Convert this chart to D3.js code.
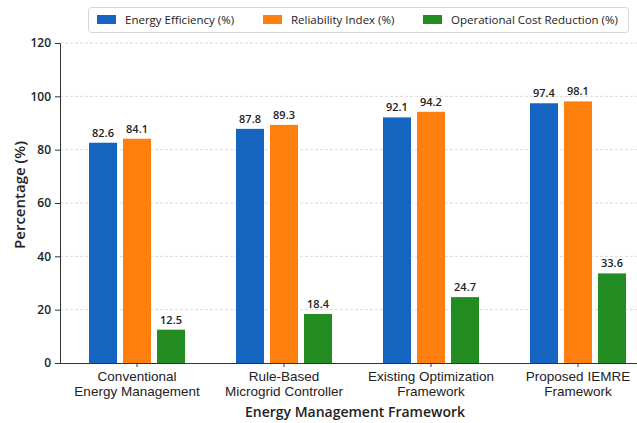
<!DOCTYPE html>
<html>
<head>
<meta charset="utf-8">
<script src="https://cdn.jsdelivr.net/npm/d3@7"></script>
<style>
  html, body { margin: 0; padding: 0; background: #fff; }
  svg { display: block; font-family: "Open Sans", "Noto Sans", sans-serif; }
</style>
</head>
<body>
<svg id="chart" width="637" height="423"></svg>
<script>
// Framework categories (two-line labels) and metric series
const categories = [
  ["Conventional", "Energy Management"],
  ["Rule-Based", "Microgrid Controller"],
  ["Existing Optimization", "Framework"],
  ["Proposed IEMRE", "Framework"]
];
const seriesNames = ["Energy Efficiency (%)", "Reliability Index (%)", "Operational Cost Reduction (%)"];
const energyEfficiency = [82.6, 87.8, 92.1, 97.4];
const reliabilityIndex = [84.1, 89.3, 94.2, 98.1];
const costReduction = [12.5, 18.4, 24.7, 33.6];
const yTicks = [0, 20, 40, 60, 80, 100, 120];
const colors = ["#1565c0", "#ff7f0e", "#228b22"];

const series = [energyEfficiency, reliabilityIndex, costReduction];
const svg = d3.select("#chart");

const plotLeft = 60, plotRight = 655, plotTop = 43, plotBottom = 363;

const x0 = d3.scaleBand()
  .domain(d3.range(categories.length))
  .range([plotLeft, plotRight])
  .paddingInner(0.3)
  .paddingOuter(0.174);

const x1 = d3.scaleBand()
  .domain(d3.range(series.length))
  .range([0, x0.bandwidth()])
  .paddingInner(0.176)
  .paddingOuter(0.101);

const y = d3.scaleLinear().domain([0, 120]).range([plotBottom, plotTop]);

// dashed horizontal grid
svg.append("g")
  .selectAll("line")
  .data(yTicks.filter(d => d > 0))
  .join("line")
  .attr("x1", plotLeft).attr("x2", 637)
  .attr("y1", d => y(d)).attr("y2", d => y(d))
  .attr("stroke", "#cfcfcf")
  .attr("stroke-width", 0.8)
  .attr("stroke-dasharray", "3,2");

// bars
const groups = svg.append("g")
  .selectAll("g")
  .data(categories.map((c, i) => i))
  .join("g")
  .attr("transform", i => `translate(${x0(i)},0)`);

groups.selectAll("rect")
  .data(i => series.map((s, k) => ({ k, v: s[i] })))
  .join("rect")
  .attr("x", d => x1(d.k))
  .attr("width", x1.bandwidth())
  .attr("y", d => y(d.v))
  .attr("height", d => y(0) - y(d.v))
  .attr("fill", d => colors[d.k]);

groups.selectAll("text")
  .data(i => series.map((s, k) => ({ k, v: s[i] })))
  .join("text")
  .attr("x", d => x1(d.k) + x1.bandwidth() / 2)
  .attr("y", d => y(d.v) - 6)
  .attr("text-anchor", "middle")
  .attr("font-size", 11)
  .attr("font-weight", 600)
  .attr("fill", "#222")
  .text(d => d.v.toFixed(1));

// y axis
const yAxis = svg.append("g")
  .attr("transform", `translate(${plotLeft},0)`)
  .call(d3.axisLeft(y).tickValues(yTicks).tickSize(5).tickPadding(4));
yAxis.select(".domain").attr("stroke", "#333");
yAxis.selectAll(".tick line").attr("stroke", "#333");
yAxis.selectAll(".tick text")
  .attr("font-size", 12).attr("font-weight", 600).attr("fill", "#222")
  .attr("font-family", "\"Open Sans\", sans-serif");

// x axis
const xAxis = svg.append("g")
  .attr("transform", `translate(0,${plotBottom})`)
  .call(d3.axisBottom(x0).tickSize(4).tickFormat(""));
xAxis.select(".domain").attr("stroke", "#333").attr("d", `M${plotLeft},0.5H637`);
xAxis.selectAll(".tick line").attr("stroke", "#333");
xAxis.selectAll(".tick").each(function (i) {
  const t = d3.select(this).append("text")
    .attr("text-anchor", "middle")
    .attr("font-size", 13.5)
    .attr("font-weight", 500)
    .attr("fill", "#222");
  categories[i].forEach((line, j) => {
    t.append("tspan").attr("x", 0).attr("y", 18 + j * 14.5).text(line);
  });
});

// axis titles
svg.append("text")
  .attr("x", 355)
  .attr("y", 417)
  .attr("text-anchor", "middle")
  .attr("font-size", 14)
  .attr("font-weight", 600)
  .attr("fill", "#222")
  .text("Energy Management Framework");

svg.append("text")
  .attr("transform", "translate(25,195) rotate(-90)")
  .attr("text-anchor", "middle")
  .attr("font-size", 15)
  .attr("font-weight", 600)
  .attr("fill", "#222")
  .text("Percentage (%)");

// legend
const legend = svg.append("g");
legend.append("rect")
  .attr("x", 88.5).attr("y", 7.5)
  .attr("width", 540).attr("height", 25)
  .attr("rx", 3)
  .attr("fill", "#fff")
  .attr("stroke", "#d6d6d6");
const legendX = [97, 263, 423];
seriesNames.forEach((name, k) => {
  legend.append("rect")
    .attr("x", legendX[k]).attr("y", 15)
    .attr("width", 19).attr("height", 9)
    .attr("fill", colors[k]);
  legend.append("text")
    .attr("x", legendX[k] + 28).attr("y", 24)
    .attr("font-size", 11.5)
    .attr("font-weight", 500)
    .attr("fill", "#222")
    .text(name);
});
</script>
</body>
</html>
